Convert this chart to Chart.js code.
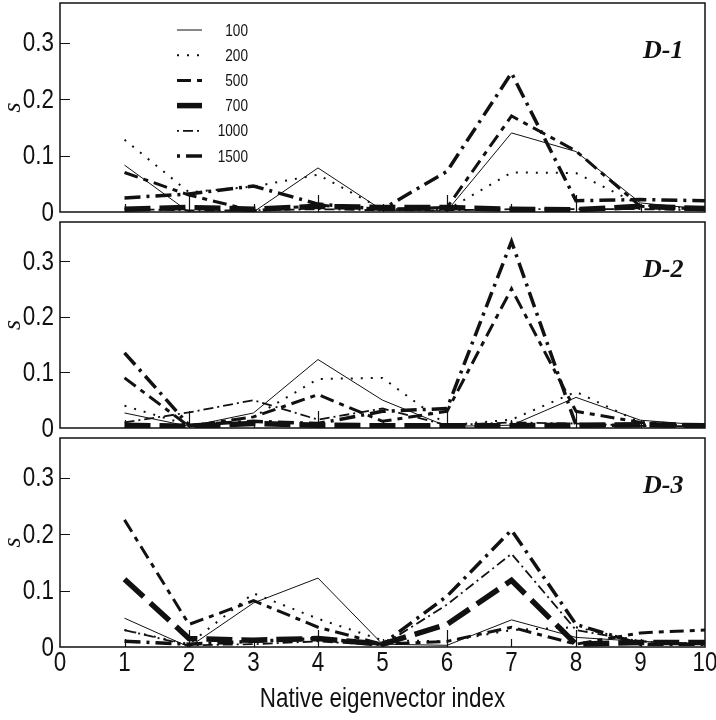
<!DOCTYPE html>
<html>
<head>
<meta charset="utf-8">
<script src="https://cdn.jsdelivr.net/npm/chart.js@4.4.1/dist/chart.umd.min.js"></script>
<style>
    body { margin: 0; background: #fff; }
    #wrap { position: relative; width: 716px; height: 720px; }
    canvas { position: absolute; left: 0; }
</style>
</head>
<body>
<div id="wrap">
    <canvas id="c1" width="716" height="240" style="top:0px"></canvas>
    <canvas id="c2" width="716" height="250" style="top:200px"></canvas>
    <canvas id="c3" width="716" height="300" style="top:420px"></canvas>
</div>
<script>
// eigenvector index (x) and tick values
const indices = [1, 2, 3, 4, 5, 6, 7, 8, 9, 10];
const xTicks = [0, 1, 2, 3, 4, 5, 6, 7, 8, 9, 10];
const yTicks = [0, 0.1, 0.2, 0.3];
const seriesNames = ['100', '200', '500', '700', '1000', '1500'];

// D-1
const d1_100  = [0.083, 0.000, 0.000, 0.078, 0.003, 0.002, 0.140, 0.107, 0.016, 0.005];
const d1_200  = [0.128, 0.035, 0.045, 0.066, 0.005, 0.004, 0.070, 0.069, 0.012, 0.005];
const d1_500  = [0.070, 0.030, 0.002, 0.012, 0.005, 0.008, 0.170, 0.108, 0.010, 0.005];
const d1_700  = [0.005, 0.008, 0.005, 0.010, 0.008, 0.008, 0.005, 0.004, 0.010, 0.006];
const d1_1000 = [0.005, 0.003, 0.003, 0.005, 0.003, 0.003, 0.005, 0.005, 0.005, 0.003];
const d1_1500 = [0.025, 0.032, 0.046, 0.014, 0.005, 0.072, 0.246, 0.020, 0.022, 0.020];

// D-2
const d2_100  = [0.027, 0.003, 0.027, 0.123, 0.050, 0.003, 0.005, 0.055, 0.014, 0.005];
const d2_200  = [0.040, 0.005, 0.020, 0.088, 0.090, 0.005, 0.015, 0.065, 0.010, 0.005];
const d2_500  = [0.090, 0.003, 0.020, 0.060, 0.012, 0.030, 0.250, 0.030, 0.010, 0.005];
const d2_700  = [0.005, 0.003, 0.008, 0.005, 0.004, 0.004, 0.004, 0.005, 0.006, 0.004];
const d2_1000 = [0.010, 0.028, 0.050, 0.015, 0.035, 0.005, 0.010, 0.008, 0.004, 0.003];
const d2_1500 = [0.135, 0.005, 0.012, 0.008, 0.030, 0.035, 0.335, 0.005, 0.005, 0.004];

// D-3
const d3_100  = [0.051, 0.000, 0.078, 0.122, 0.005, 0.003, 0.048, 0.017, 0.010, 0.005];
const d3_200  = [0.030, 0.005, 0.095, 0.050, 0.012, 0.010, 0.030, 0.035, 0.010, 0.005];
const d3_500  = [0.225, 0.040, 0.082, 0.035, 0.005, 0.010, 0.035, 0.005, 0.025, 0.030];
const d3_700  = [0.120, 0.015, 0.012, 0.015, 0.005, 0.040, 0.118, 0.005, 0.008, 0.008];
const d3_1000 = [0.030, 0.003, 0.005, 0.010, 0.003, 0.075, 0.165, 0.030, 0.010, 0.005];
const d3_1500 = [0.010, 0.005, 0.010, 0.015, 0.005, 0.090, 0.207, 0.040, 0.005, 0.005];

const INK = '#111';
const SANS = '"Liberation Sans", Arial, sans-serif';
const NARROW_X = 0.8;   // Arial Narrow look: squeeze Liberation Sans horizontally

// line style per series: width, dash pattern, dash offset for the legend sample
const styles = {
    '100':  { width: 1,   dash: [],             legendOffset: 0 },
    '200':  { width: 2,   dash: [2, 8],         legendOffset: 0 },
    '500':  { width: 3,   dash: [14, 6, 5, 6],  legendOffset: 0 },
    '700':  { width: 5.5, dash: [26, 9],        legendOffset: 0 },
    '1000': { width: 1.8, dash: [10, 4, 2, 4],  legendOffset: 14 },
    '1500': { width: 3.5, dash: [16, 6, 3, 6],  legendOffset: 22 }
};

function narrowText(ctx, text, x, y, align) {
    ctx.save();
    ctx.translate(x, y);
    ctx.scale(NARROW_X, 1);
    ctx.textAlign = align;
    ctx.fillText(text, 0, 0);
    ctx.restore();
}

const panelFrame = {
    id: 'panelFrame',
    afterDatasetsDraw(chart, args, opts) {
        const { ctx, chartArea: a } = chart;
        const x = chart.scales.x, y = chart.scales.y;
        ctx.save();
        ctx.strokeStyle = INK;
        ctx.fillStyle = INK;
        ctx.lineWidth = 1.5;
        ctx.strokeRect(a.left, a.top, a.right - a.left, a.bottom - a.top);

        // inner ticks
        ctx.lineWidth = 1.2;
        ctx.beginPath();
        xTicks.slice(1, -1).forEach(v => {
            const px = Math.round(x.getPixelForValue(v)) + 0.5;
            const len = v % 2 === 0 ? 17 : 8;
            ctx.moveTo(px, a.bottom);
            ctx.lineTo(px, a.bottom - len);
        });
        yTicks.slice(1).forEach(v => {
            const py = Math.round(y.getPixelForValue(v)) + 0.5;
            ctx.moveTo(a.left, py);
            ctx.lineTo(a.left + 10, py);
        });
        ctx.stroke();

        // y tick labels
        ctx.textBaseline = 'middle';
        ctx.font = '28px ' + SANS;
        yTicks.forEach(v => {
            narrowText(ctx, v === 0 ? '0' : v.toFixed(1), a.left - 6, y.getPixelForValue(v) + 1, 'right');
        });

        // x tick labels and axis title (bottom panel only)
        if (opts.xLabels) {
            xTicks.forEach(v => {
                narrowText(ctx, String(v), x.getPixelForValue(v), a.bottom + 16, 'center');
            });
            narrowText(ctx, 'Native eigenvector index', (a.left + a.right) / 2, a.bottom + 52, 'center');
        }

        // panel label
        ctx.font = 'italic bold 26px "Liberation Serif", "DejaVu Serif", serif';
        ctx.textAlign = 'left';
        ctx.fillText(opts.label, a.right - 62, a.top + 48);

        if (opts.legend) {
            ctx.font = '17px ' + SANS;
            seriesNames.forEach((name, i) => {
                const st = styles[name];
                const ly = a.top + 27 + i * 25.2;
                ctx.beginPath();
                ctx.lineWidth = st.width;
                ctx.setLineDash(st.dash);
                ctx.lineDashOffset = st.legendOffset;
                ctx.moveTo(a.left + 117, ly);
                ctx.lineTo(a.left + 142, ly);
                ctx.stroke();
                ctx.setLineDash([]);
                narrowText(ctx, name, a.left + 188, ly + 1, 'right');
            });
        }
        ctx.restore();
    }
};

function buildPanel(canvasId, label, seriesValues, padTop, padBottom, xLabels, legend) {
    const datasets = seriesNames.map((name, i) => ({
        label: name,
        data: indices.map((k, j) => ({ x: k, y: seriesValues[i][j] })),
        borderColor: INK,
        borderWidth: styles[name].width,
        borderDash: styles[name].dash,
        pointRadius: 0,
        tension: 0,
        fill: false
    }));

    const config = {
        type: 'line',
        data: { datasets: datasets },
        options: {
            responsive: false,
            animation: false,
            devicePixelRatio: 1,
            layout: { padding: { top: padTop, right: 11, bottom: padBottom, left: 0 } },
            plugins: {
                legend: { display: false },
                tooltip: { enabled: false },
                panelFrame: { label: label, legend: legend, xLabels: xLabels }
            },
            scales: {
                x: {
                    type: 'linear',
                    min: 0,
                    max: 10,
                    display: false
                },
                y: {
                    min: 0,
                    max: 0.37,
                    grid: { display: false, drawTicks: false },
                    border: { display: false },
                    afterBuildTicks: s => { s.ticks = yTicks.map(v => ({ value: v })); },
                    afterFit: s => { s.width = 60; s.paddingTop = 0; s.paddingBottom = 0; },
                    ticks: { display: false },
                    title: {
                        display: true,
                        text: 's',
                        color: INK,
                        padding: 0,
                        font: { family: '"Liberation Serif", serif', style: 'italic', size: 26, lineHeight: 1 }
                    }
                }
            }
        },
        plugins: [panelFrame]
    };
    return new Chart(document.getElementById(canvasId), config);
}

buildPanel('c1', 'D-1', [d1_100, d1_200, d1_500, d1_700, d1_1000, d1_1500], 3, 28, false, true);
buildPanel('c2', 'D-2', [d2_100, d2_200, d2_500, d2_700, d2_1000, d2_1500], 22, 22, false, false);
buildPanel('c3', 'D-3', [d3_100, d3_200, d3_500, d3_700, d3_1000, d3_1500], 18, 73, true, false);
</script>
</body>
</html>
